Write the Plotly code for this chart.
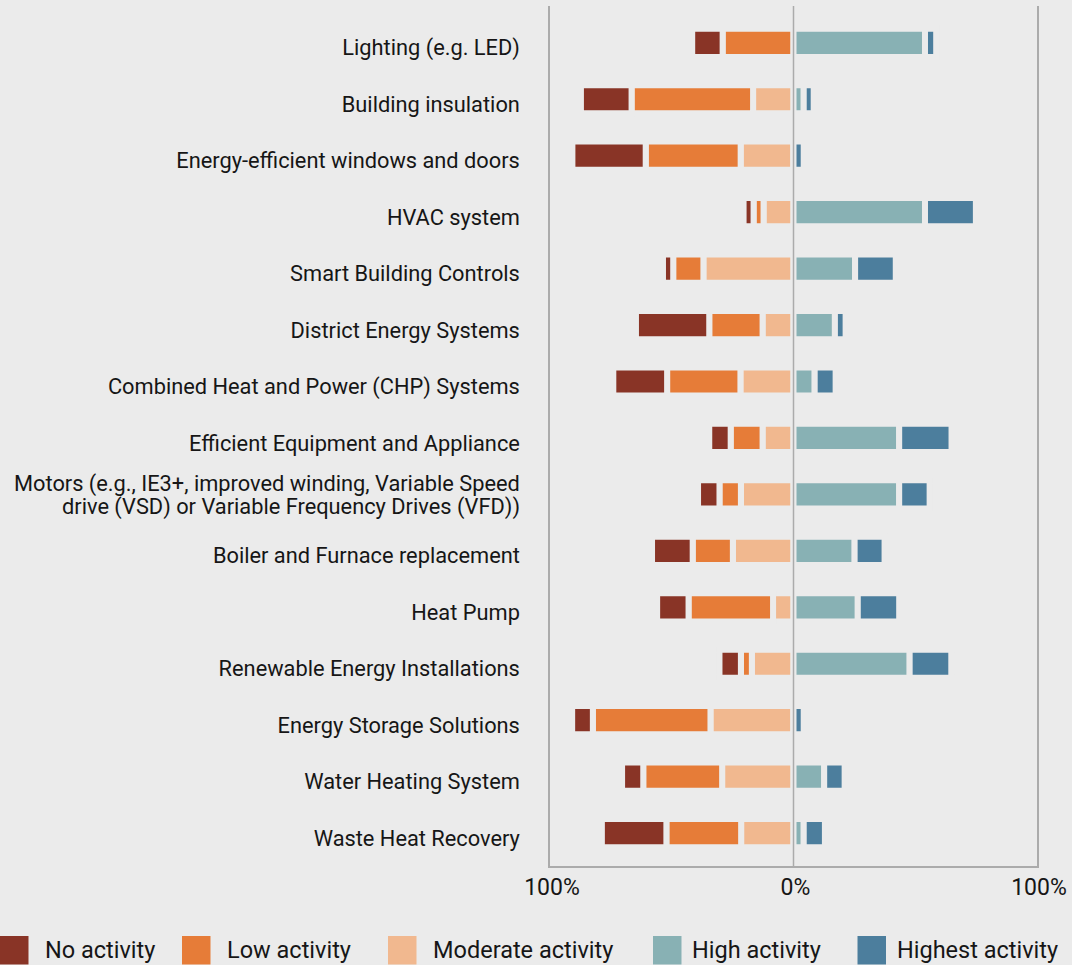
import plotly.graph_objects as go

categories = [
    "Lighting (e.g. LED)",
    "Building insulation",
    "Energy-efficient windows and doors",
    "HVAC system",
    "Smart Building Controls",
    "District Energy Systems",
    "Combined Heat and Power (CHP) Systems",
    "Efficient Equipment and Appliance",
    "Motors (e.g., IE3+, improved winding, Variable Speed<br>drive (VSD) or Variable Frequency Drives (VFD))",
    "Boiler and Furnace replacement",
    "Heat Pump",
    "Renewable Energy Installations",
    "Energy Storage Solutions",
    "Water Heating System",
    "Waste Heat Recovery",
]

no_activity = [12.5, 20.8, 30.1, 4.1, 4.2, 30.1, 22.1, 8.8, 8.8, 16.7, 12.9, 8.8, 8.5, 8.7, 26.5]
low_activity = [29.1, 49.9, 39.0, 4.1, 12.4, 21.9, 30.1, 13.1, 8.8, 16.5, 34.7, 4.5, 48.3, 32.4, 30.7]
moderate_activity = [0.0, 16.6, 21.7, 12.3, 37.0, 12.7, 21.8, 12.7, 21.6, 24.9, 8.4, 17.1, 34.1, 29.3, 21.5]
high_activity = [54.0, 4.2, 0.0, 54.0, 25.3, 17.0, 8.7, 43.4, 43.4, 25.1, 26.4, 47.7, 0.0, 12.6, 4.2]
highest_activity = [4.6, 4.1, 4.2, 20.9, 16.7, 4.4, 8.6, 21.5, 12.5, 12.3, 17.0, 17.1, 4.2, 8.4, 8.7]

series_names = ["No activity", "Low activity", "Moderate activity", "High activity", "Highest activity"]
colors = ["#893426", "#E67C38", "#F1B88F", "#88B1B4", "#4C7E9D"]

x_ticks = [-100, 0, 100]
x_tick_labels = ["100%", "0%", "100%"]

BG = "#EBEBEB"
TXT = "#161616"
AXC = "#ABABAB"

W, H = 1072, 965
ML, MR, MT, MB = 550, 35, 6, 99
PW = W - ML - MR
PH = H - MT - MB
LABEL_SIZE = 21.8

fig = go.Figure()

# stacking order: negatives from the centre outward, then positives
order = [
    (2, moderate_activity, -1),
    (1, low_activity, -1),
    (0, no_activity, -1),
    (3, high_activity, 1),
    (4, highest_activity, 1),
]
for idx, vals, sign in order:
    fig.add_trace(go.Bar(
        y=categories,
        x=[sign * v for v in vals],
        orientation="h",
        name=series_names[idx],
        marker=dict(color=colors[idx], line=dict(color=BG, width=6)),
        showlegend=False,
        hovertemplate="%{y}: " + series_names[idx] + " %{customdata}%<extra></extra>",
        customdata=vals,
    ))

# two-line category label is drawn as text lines with tighter leading
multi = [c for c in categories if "<br>" in c]
tick_text = ["" if c in multi else c for c in categories]

n = len(categories)
fig.update_layout(
    width=W, height=H,
    margin=dict(l=ML, r=MR, t=MT, b=MB, pad=0),
    paper_bgcolor=BG, plot_bgcolor=BG,
    barmode="relative",
    bargap=0.5,
    font=dict(family="Roboto, 'Noto Sans', sans-serif", color=TXT, size=21),
    showlegend=False,
    xaxis=dict(
        range=[-100, 100],
        tickvals=x_ticks, ticktext=x_tick_labels,
        showgrid=False, zeroline=False,
        showline=True, linecolor=AXC, linewidth=1.5,
        ticks="", ticklabelstandoff=0, ticklabelshift=2,
        tickfont=dict(size=23, color=TXT),
        fixedrange=True,
    ),
    yaxis=dict(
        type="category",
        categoryorder="array", categoryarray=categories,
        tickvals=categories, ticktext=tick_text,
        range=[n - 1 + 0.583, -0.652],
        showgrid=False, zeroline=False,
        showline=True, mirror=True, linecolor=AXC, linewidth=1.5,
        ticks="", ticklabelstandoff=24, ticklabelshift=-5,
        tickfont=dict(size=LABEL_SIZE, color=TXT),
        fixedrange=True,
    ),
)

for c in multi:
    lines = c.split("<br>")
    shifts = [10, -13]
    for line, ys in zip(lines, shifts):
        fig.add_annotation(xref="paper", yref="y", x=0, y=c, xshift=-28, yshift=ys,
                           text=line, showarrow=False, xanchor="right", yanchor="middle",
                           font=dict(size=LABEL_SIZE, color=TXT))

# centre line
fig.add_shape(type="line", xref="x", yref="paper", x0=0, x1=0, y0=0, y1=1,
              line=dict(color=AXC, width=1.5), layer="above")

# manual legend
def px_x(p):
    return (p - ML) / PW

def px_y(p):
    return (H - MB - p) / PH

legend_sq = [0, 182, 388, 653, 857.5]
legend_tx = [43, 225, 431, 690, 895]
sq_size = 28.5
sq_top = 936
for i, name in enumerate(series_names):
    fig.add_shape(type="rect", xref="paper", yref="paper",
                  x0=px_x(legend_sq[i]), x1=px_x(legend_sq[i] + sq_size),
                  y0=px_y(sq_top + sq_size), y1=px_y(sq_top),
                  fillcolor=colors[i], line=dict(width=0), layer="above")
    fig.add_annotation(xref="paper", yref="paper",
                       x=px_x(legend_tx[i]), y=px_y(sq_top + sq_size / 2),
                       text=name, showarrow=False, xanchor="left", yanchor="middle",
                       font=dict(size=23.5, color=TXT))

fig.write_html(
    "out.html",
    config={"displayModeBar": False},
    post_script="document.body.style.margin='0';document.body.style.overflow='hidden';"
                "document.documentElement.style.overflow='hidden';",
)
